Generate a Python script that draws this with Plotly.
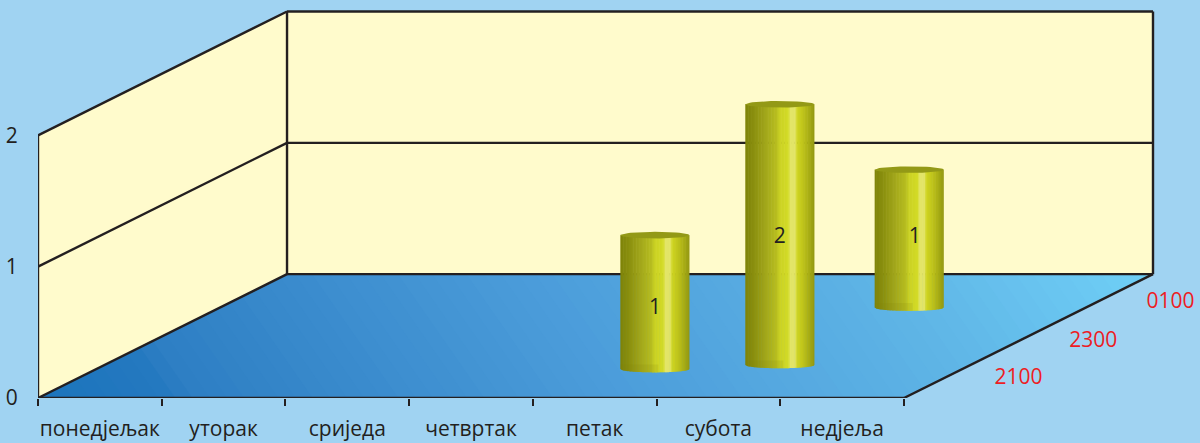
import numpy as np
import plotly.graph_objects as go

# ---- data ----
days = ["понедјељак", "уторак", "сриједа", "четвртак", "петак", "субота", "недјеља"]
depth_labels = ["2100", "2300", "0100"]
depth_label_pos = [0.56, 1.46, 2.39]
value_ticks = [0, 1, 2]
bar_day = [4.517, 5.46, 5.573]
bar_depth = [0.70, 0.80, 2.19]
bar_height = [1.02, 1.985, 1.05]
bar_label = ["1", "2", "1"]

# ---- chart geometry and style ----
W, H = 1200, 443
ML, MB = 38, 44.5
DAY_PX, VAL_PX = 123.71, 131.5
DX, DY = 0.671, 0.3143      # oblique shift of one depth unit, in day / value units
N_DAY, N_DEPTH, MAX_VAL = 7, 3, 2
BG, WALL, INK, RED = "#A0D3F2", "#FFFBCC", "#231F20", "#ED1C24"
FONT = "Open Sans"
FS = 21
RADIUS = 0.2795
ELL = 0.025


def proj(day, depth, val):
    return day + depth * DX, val + depth * DY


def mix(stops, t):
    xs = [s[0] for s in stops]
    rgb = [[int(s[1][i:i + 2], 16) for s in stops] for i in (1, 3, 5)]
    return "rgb(%d,%d,%d)" % tuple(round(float(np.interp(t, xs, c))) for c in rgb)


fig = go.Figure()


def poly(pts, color):
    fig.add_trace(go.Scatter(x=[p[0] for p in pts], y=[p[1] for p in pts], mode="lines",
                             fill="toself", fillcolor=color, line=dict(width=0),
                             hoverinfo="skip", showlegend=False))


def line(a, b, width=2.4):
    p, q = proj(*a), proj(*b)
    fig.add_trace(go.Scatter(x=[p[0], q[0]], y=[p[1], q[1]], mode="lines", cliponaxis=False,
                             line=dict(color=INK, width=width), hoverinfo="skip", showlegend=False))


# walls
poly([proj(0, 0, 0), proj(0, N_DEPTH, 0), proj(0, N_DEPTH, MAX_VAL), proj(0, 0, MAX_VAL)], WALL)
poly([proj(0, N_DEPTH, 0), proj(N_DAY, N_DEPTH, 0), proj(N_DAY, N_DEPTH, MAX_VAL), proj(0, N_DEPTH, MAX_VAL)], WALL)

# floor with a diagonal gradient, painted as nested clipped polygons
floor_stops = [(0, "#1B74BC"), (0.118, "#2579C0"), (0.124, "#2D7EC3"), (0.5, "#4D9EDB"),
               (0.78, "#5FB5E6"), (1, "#70D0F7")]
corners = [proj(0, 0, 0), proj(N_DAY, 0, 0), proj(N_DAY, N_DEPTH, 0), proj(0, N_DEPTH, 0)]


def grad(p):
    return 0.82 * p[0] * DAY_PX + 0.57 * p[1] * VAL_PX


gmax = grad(corners[2])


def clip(pts, limit):
    out = []
    for i, a in enumerate(pts):
        b = pts[(i + 1) % len(pts)]
        ga, gb = grad(a), grad(b)
        if ga <= limit:
            out.append(a)
        if (ga - limit) * (gb - limit) < 0:
            s = (limit - ga) / (gb - ga)
            out.append((a[0] + s * (b[0] - a[0]), a[1] + s * (b[1] - a[1])))
    return out


N = 70
for i in range(N, 0, -1):
    pts = clip(corners, gmax * i / N)
    if len(pts) >= 3:
        poly(pts, mix(floor_stops, (i - 0.5) / N))

# frame and grid lines
for v in (1, MAX_VAL):
    line((0, 0, v), (0, N_DEPTH, v))
    line((0, N_DEPTH, v), (N_DAY, N_DEPTH, v))
line((0, 0, 0), (0, 0, MAX_VAL))
line((0, N_DEPTH, 0), (0, N_DEPTH, MAX_VAL))
line((N_DAY, N_DEPTH, 0), (N_DAY, N_DEPTH, MAX_VAL))
line((0, 0, 0), (0, N_DEPTH, 0))
line((0, N_DEPTH, 0), (N_DAY, N_DEPTH, 0))
line((N_DAY, 0, 0), (N_DAY, N_DEPTH, 0))
line((0, 0, 0), (N_DAY, 0, 0))

# cylinders
side_stops = [(0, "#7E8309"), (0.12, "#8A8F0E"), (0.28, "#A0A51A"), (0.45, "#B7BD20"),
              (0.50, "#CBD224"), (0.62, "#D3DB26"), (0.65, "#E3E568"), (0.72, "#E2E466"),
              (0.75, "#CFD520"), (0.85, "#BBC01A"), (0.93, "#A5AA14"), (1, "#929712")]
STRIPS = 48
BAND = 0.035
for d, z, h, lab in zip(bar_day, bar_depth, bar_height, bar_label):
    cx, cy = proj(d, z, 0)


    def bottom(x):
        u = np.clip((x - cx) / RADIUS, -1, 1)
        return cy - ELL * np.sqrt(1 - u * u)


    for i in range(STRIPS):
        x0 = cx - RADIUS + 2 * RADIUS * i / STRIPS
        x1 = min(cx + RADIUS, x0 + 2 * RADIUS / STRIPS * 1.4)
        poly([(x0, cy + h), (x1, cy + h), (x1, bottom(x1)), (x0, bottom(x0))], mix(side_stops, (i + 0.5) / STRIPS))
    xs = np.linspace(cx - RADIUS, cx + 0.1 * RADIUS, 16)
    poly([(x, cy + BAND) for x in xs] + [(x, bottom(x)) for x in xs[::-1]], "rgba(125,130,8,0.14)")
    th = np.linspace(0, 2 * np.pi, 49)
    poly([(cx + RADIUS * np.cos(a), cy + h + ELL * np.sin(a)) for a in th], "#939916")

label_shift = [(0, -0.05), (0, -0.02), (0.045, 0.01)]
lx, ly = [], []
for d, z, h, s in zip(bar_day, bar_depth, bar_height, label_shift):
    cx, cy = proj(d, z, 0)
    lx.append(cx + s[0])
    ly.append(cy + h / 2 + s[1])
fig.add_trace(go.Scatter(x=lx, y=ly, mode="text", text=bar_label, cliponaxis=False,
                         textfont=dict(family=FONT, size=FS, color=INK), hoverinfo="skip", showlegend=False))

# depth labels
dp = [proj(N_DAY + 0.55, z, -0.027) for z in depth_label_pos]
fig.add_trace(go.Scatter(x=[p[0] for p in dp], y=[p[1] for p in dp], mode="text", text=depth_labels,
                         cliponaxis=False, textfont=dict(family=FONT, size=FS, color=RED),
                         hoverinfo="skip", showlegend=False))

fig.update_layout(
    width=W, height=H, autosize=False,
    margin=dict(l=ML, r=0, t=0, b=MB, pad=0),
    paper_bgcolor=BG, plot_bgcolor=BG,
    font=dict(family=FONT, size=FS, color=INK),
    showlegend=False,
    xaxis=dict(range=[0, (W - ML) / DAY_PX], tickmode="array", automargin=False,
               tickvals=[i + 0.5 for i in range(N_DAY)], ticktext=days,
               ticks="outside", ticklen=12, tickcolor="rgba(0,0,0,0)",
               showgrid=False, zeroline=False, showline=False,
               minor=dict(tickmode="array", tickvals=list(range(N_DAY + 1)), ticks="outside",
                          ticklen=7, tickwidth=2.4, tickcolor=INK, showgrid=False)),
    yaxis=dict(range=[0, (H - MB) / VAL_PX], tickmode="array", tickvals=value_ticks, automargin=False,
               ticktext=[str(v) for v in value_ticks],
               ticks="outside", ticklen=15, tickcolor="rgba(0,0,0,0)",
               showgrid=False, zeroline=False, showline=False),
)

fig.write_html("out.html", config={"displayModeBar": False},
               post_script="document.body.style.margin='0';document.body.style.overflow='hidden';window.dispatchEvent(new Event('resize'));")
